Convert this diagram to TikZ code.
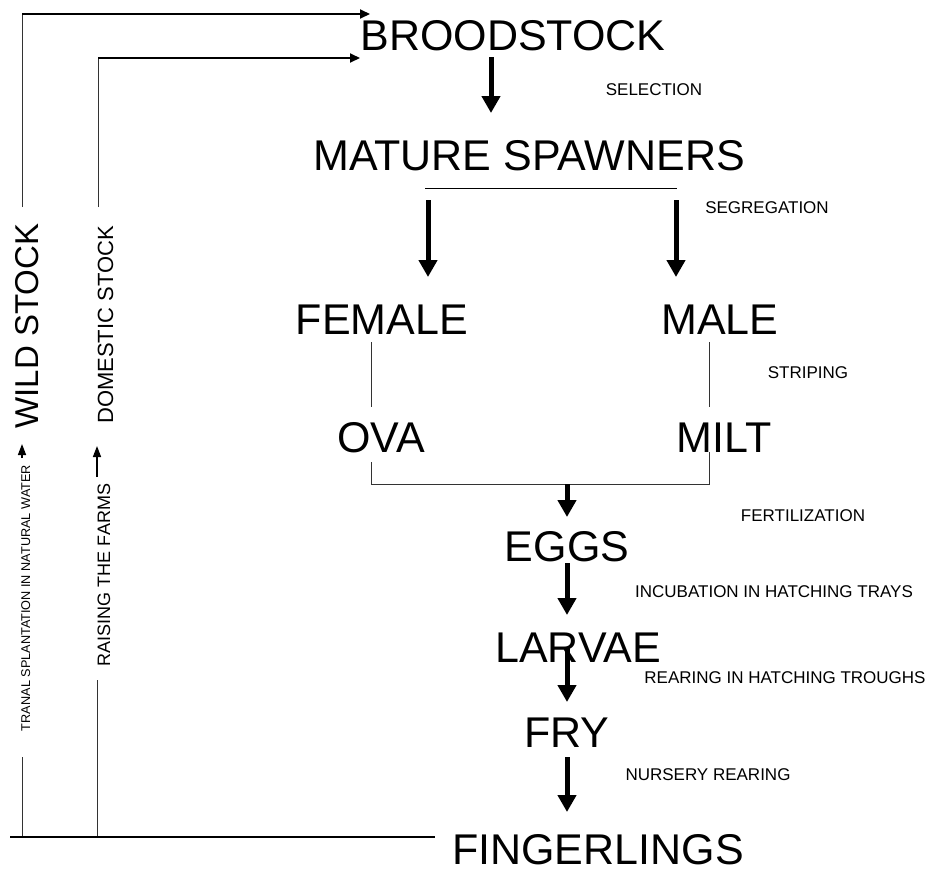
\documentclass[tikz,border=0pt]{standalone}
\usepackage{fontspec}
\setmainfont{Liberation Sans}
\usetikzlibrary{arrows.meta}
\tikzset{
  big/.style={inner sep=0pt, anchor=base, font=\fontsize{43}{43}\selectfont},
  small/.style={inner sep=0pt, anchor=base, font=\fontsize{17}{17}\selectfont},
  thickarrow/.style={line width=5pt, -{Triangle[width=18pt,length=17pt]}},
  toparrow/.style={line width=2pt, -{Triangle[width=9pt,length=10pt]}},
  thinline/.style={line width=1pt, draw=black!80},
  sidearrow/.style={line width=1.5pt, -{Triangle[width=8pt,length=11pt]}}
}
\begin{document}
\begin{tikzpicture}[x=1pt,y=-1pt]
\useasboundingbox (0,0) rectangle (939,871);
% main text nodes
\node[big] (brood) at (513,50) {BROODSTOCK};
\node[big] (mature) at (529,170) {MATURE SPAWNERS};
\node[big] (female) at (382,334) {FEMALE};
\node[big] (male) at (720,334) {MALE};
\node[big] (ova) at (381,452) {OVA};
\node[big] (milt) at (724,452) {MILT};
\node[big] (eggs) at (567,561) {EGGS};
\node[big] (larvae) at (578,662) {LARVAE};
\node[big] (fry) at (567,747) {FRY};
\node[big, text depth=0pt] (finger) at (598,864) {FINGERLINGS};
% side labels
\node[small] (sel) at (654,95) {SELECTION};
\node[small] (seg) at (767,213) {SEGREGATION};
\node[small] (strip) at (808,378) {STRIPING};
\node[small] (fert) at (803,521) {FERTILIZATION};
\node[small] (incub) at (774,597) {INCUBATION IN HATCHING TRAYS};
\node[small] (rear) at (785,683) {REARING IN HATCHING TROUGHS};
\node[small] (nurs) at (708,780) {NURSERY REARING};
% rotated left texts
\node[inner sep=0pt, anchor=base, rotate=90, font=\fontsize{33}{33}\selectfont] (wild) at (38,326) {WILD STOCK};
\node[inner sep=0pt, anchor=base, rotate=90, font=\fontsize{22}{22}\selectfont] (dom) at (113,325) {DOMESTIC STOCK};
\node[inner sep=0pt, anchor=base, rotate=90, font=\fontsize{18}{18}\selectfont] (raise) at (110,575) {RAISING THE FARMS};
\node[inner sep=0pt, anchor=base, rotate=90, font=\fontsize{12.7}{12.7}\selectfont] (tranal) at (30,598) {TRANAL SPLANTATION IN NATURAL WATER};
% coordinates
\coordinate (wtop) at (22,14);
\coordinate (wtip) at (370,14);
\coordinate (wlow) at (22,207);
\coordinate (dtop) at (98,58);
\coordinate (dtip) at (360,58);
\coordinate (dlow) at (98,207);
\coordinate (wa1) at (22,458);
\coordinate (wa2) at (22,444);
\coordinate (da1) at (97,477);
\coordinate (da2) at (97,446);
\coordinate (wb1) at (22,757);
\coordinate (wb2) at (22,837);
\coordinate (db1) at (97,680);
\coordinate (db2) at (97,837);
\coordinate (bl) at (10,837);
\coordinate (br) at (435,837);
\coordinate (b1) at (491,57);
\coordinate (b2) at (491,113);
\coordinate (mL) at (425,188);
\coordinate (mR) at (677,188);
\coordinate (aL1) at (428,200);
\coordinate (aL2) at (428,277);
\coordinate (aR1) at (676,200);
\coordinate (aR2) at (676,277);
\coordinate (fL1) at (371,342);
\coordinate (fL2) at (371,407);
\coordinate (fR1) at (709,342);
\coordinate (fR2) at (709,407);
\coordinate (oL) at (371,462);
\coordinate (oR) at (709,452);
\coordinate (jL) at (371,484);
\coordinate (jR) at (709,484);
\coordinate (e1) at (567,484);
\coordinate (e2) at (567,517);
\coordinate (g1) at (567,563);
\coordinate (g2) at (567,615);
\coordinate (l1) at (567,648);
\coordinate (l2) at (567,702);
\coordinate (r1) at (567,757);
\coordinate (r2) at (567,812);
% left loops
\draw[thinline] (wlow) -- (wtop);
\draw[toparrow] (wtop) -- (wtip);
\draw[thinline] (dlow) -- (dtop);
\draw[toparrow] (dtop) -- (dtip);
\draw[sidearrow] (wa1) -- (wa2);
\draw[sidearrow] (da1) -- (da2);
\draw[thinline] (wb1) -- (wb2);
\draw[thinline] (db1) -- (db2);
\draw[line width=1.5pt] (bl) -- (br);
% center flow
\draw[thickarrow] (b1) -- (b2);
\draw[line width=1pt] (mL) -- (mR);
\draw[thickarrow] (aL1) -- (aL2);
\draw[thickarrow] (aR1) -- (aR2);
\draw[thinline] (fL1) -- (fL2);
\draw[thinline] (fR1) -- (fR2);
\draw[thinline] (oL) -- (jL) -- (jR) -- (oR);
\draw[thickarrow] (e1) -- (e2);
\draw[thickarrow] (g1) -- (g2);
\draw[thickarrow] (l1) -- (l2);
\draw[thickarrow] (r1) -- (r2);
\end{tikzpicture}
\end{document}
